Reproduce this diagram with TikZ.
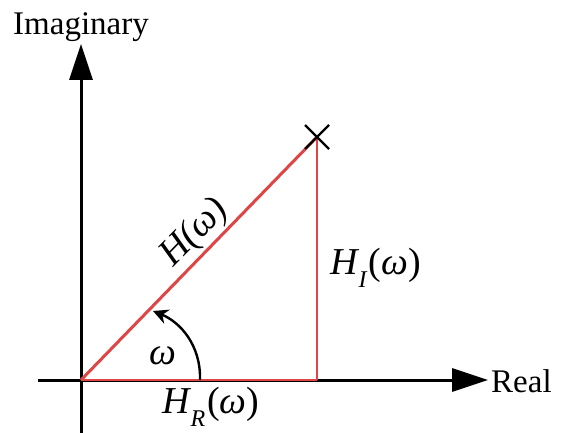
\documentclass[tikz,border=0pt]{standalone}
\usepackage{fontspec}
\setmainfont{Liberation Serif}
\usetikzlibrary{arrows.meta,calc}
\definecolor{vred}{RGB}{222,70,70}
\newcommand{\subs}[1]{\hspace{1pt}\raisebox{-13pt}{\fontsize{24}{26}\selectfont\itshape #1}\hspace{2pt}}
\newcommand{\pw}{\upshape(\itshape ω\upshape)}
\tikzset{
  axis/.style={line width=3pt,-{Triangle[length=36pt,width=23pt]}},
  lbl/.style={font=\fontsize{33}{36}\selectfont,inner sep=0pt},
  mlbl/.style={font=\fontsize{38}{40}\selectfont\itshape,inner sep=0pt},
}
\begin{document}
\begin{tikzpicture}[x=1pt,y=-1pt]
\useasboundingbox (0,0) rectangle (562,433);
\fill[white] (0,0) rectangle (562,433);
\coordinate (O) at (81,380);
\coordinate (vb) at (81,433);
\coordinate (vt) at (81,44);
\coordinate (hl) at (38,380);
\coordinate (hr) at (488,380);
\coordinate (P) at (317,137);
\coordinate (F) at (317,380);
\coordinate (A0) at (200,380);
\coordinate (A1) at (153,311);
% axes
\draw[axis] (vb) -- (vt);
\draw[axis] (hl) -- (hr);
% red lines
\draw[vred,line width=1.4pt] (O) -- (F);
\draw[vred,line width=1.4pt] (F) -- (P);
\draw[vred,line width=3pt] (O) -- (P);
% X mark
\draw[line width=2.4pt] ($(P)+(-12,-12)$) -- ($(P)+(12,12)$);
\draw[line width=2.4pt] ($(P)+(-12,12)$) -- ($(P)+(12,-12)$);
% angle arc
\draw[line width=2.4pt,-{Stealth[length=15pt,width=15pt]}] (A0) .. controls (201,345) and (180,322) .. (A1);
% labels
\node[lbl] (imag) at (81,27) {Imaginary};
\node[lbl,anchor=west] (real) at (491,381) {Real};
\node[mlbl,rotate=45.5] (H) at (195,233) {H(ω)};
\node[mlbl,anchor=west] (HI) at (330,268) {H\subs{I}\pw};
\node[mlbl,anchor=west] (HR) at (162,407) {H\subs{R}\pw};
\node[mlbl] (w) at (163,356) {ω};
\end{tikzpicture}
\end{document}
